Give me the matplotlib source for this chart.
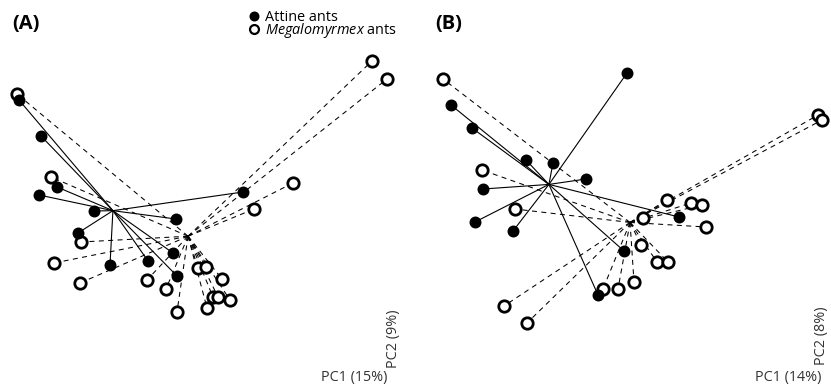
"""PCA spider plots: attine vs Megalomyrmex ants, two panels."""

import matplotlib
matplotlib.use("Agg")
import matplotlib.pyplot as plt
import numpy as np
from matplotlib.lines import Line2D

plt.rcParams["font.family"] = ["Open Sans", "DejaVu Sans"]
plt.rcParams["mathtext.fontset"] = "custom"
plt.rcParams["mathtext.rm"] = "Open Sans"
plt.rcParams["mathtext.it"] = "Open Sans:italic"

# Panel A scores (PC1, PC2)
a_attine_pc1 = [-1.81, -1.59, -1.43, -1.61, -1.06, 0.43, -0.24, -1.22, -0.90, -0.52, -0.27, -0.23]
a_attine_pc2 = [1.30, 0.94, 0.43, 0.35, 0.19, 0.38, 0.11, -0.03, -0.35, -0.31, -0.23, -0.46]
a_mega_pc1 = [-1.83, -1.49, 1.72, 1.87, 0.93, 0.54, -1.19, -1.46, -1.20, -0.53,
              -0.34, -0.23, -0.02, 0.06, 0.22, 0.13, 0.18, 0.30, 0.07]
a_mega_pc2 = [1.36, 0.53, 1.69, 1.51, 0.47, 0.21, -0.12, -0.33, -0.53, -0.50,
              -0.59, -0.82, -0.38, -0.37, -0.49, -0.67, -0.67, -0.70, -0.78]

# Panel B scores (PC1, PC2)
b_attine_pc1 = [-1.69, -1.48, -0.94, -0.67, 0.07, -1.37, -0.34, -1.45, -1.07, 0.59, 0.04, -0.22]
b_attine_pc2 = [1.25, 1.02, 0.70, 0.67, 1.57, 0.41, 0.51, 0.08, -0.01, 0.13, -0.21, -0.65]
b_mega_pc1 = [-1.77, 1.98, 2.02, -1.38, -1.05, 0.47, 0.71, 0.82, 0.23, 0.86,
              0.21, 0.37, 0.48, 0.14, -0.02, -0.17, -1.16, -0.93]
b_mega_pc2 = [1.51, 1.15, 1.10, 0.60, 0.21, 0.30, 0.27, 0.25, 0.12, 0.03,
              -0.15, -0.32, -0.32, -0.52, -0.59, -0.59, -0.76, -0.93]

panels = [
    ("(A)", "PC1 (15%)", "PC2 (9%)", a_attine_pc1, a_attine_pc2, a_mega_pc1, a_mega_pc2),
    ("(B)", "PC1 (14%)", "PC2 (8%)", b_attine_pc1, b_attine_pc2, b_mega_pc1, b_mega_pc2),
]

W, H = 831, 388
fig = plt.figure(figsize=(W / 100, H / 100), dpi=100)

ax_a = fig.add_axes((0, 0, 415 / W, 1))
ax_b = fig.add_axes((415 / W, 0, 416 / W, 1))
ax_a.set_xlim(-2.00, 2.15)
ax_b.set_xlim(-2.05, 2.11)
axes = [ax_a, ax_b]

filled_kw = dict(marker="o", ms=8.6, mfc="black", mec="black", mew=0, ls="none", zorder=4)
open_kw = dict(marker="o", ms=8.2, mfc="white", mec="black", mew=2.0, ls="none", zorder=3)


def spider(ax, xs, ys, **line_kw):
    xs, ys = np.asarray(xs), np.asarray(ys)
    cx, cy = xs.mean(), ys.mean()
    for x, y in zip(xs, ys):
        ax.plot([cx, x], [cy, y], color="black", zorder=2, **line_kw)


for ax, (tag, xlab, ylab, ax1, ay1, mx1, my1) in zip(axes, panels):
    ax.set_ylim(-1.58, 2.30)
    ax.axis("off")
    spider(ax, mx1, my1, lw=0.75, ls=(0, (4.8, 4.2)))
    spider(ax, ax1, ay1, lw=0.8, ls="-")
    ax.plot(mx1, my1, clip_on=False, **open_kw)
    ax.plot(ax1, ay1, clip_on=False, **filled_kw)

fig.text(12 / W, 1 - 24 / H, "(A)", fontsize=14.5, fontweight="bold", va="center")
fig.text(435 / W, 1 - 24 / H, "(B)", fontsize=14.5, fontweight="bold", va="center")

lab_kw = dict(fontsize=10.4, color="#333333")
fig.text(387 / W, 1 - 377 / H, "PC1 (15%)", ha="right", va="center", **lab_kw)
fig.text(393 / W, 1 - 339 / H, "PC2 (9%)", rotation=90, ha="center", va="center", **lab_kw)
fig.text(821 / W, 1 - 378 / H, "PC1 (14%)", ha="right", va="center", **lab_kw)
fig.text(822 / W, 1 - 336 / H, "PC2 (8%)", rotation=90, ha="center", va="center", **lab_kw)

handles = [
    Line2D([], [], marker="o", ms=7.2, mfc="black", mec="black", mew=0, ls="none"),
    Line2D([], [], marker="o", ms=6.4, mfc="white", mec="black", mew=1.6, ls="none"),
]
fig.legend(handles, ["Attine ants", r"$\it{Megalomyrmex}$ ants"],
           loc="upper left", bbox_to_anchor=(250 / W, 1 - 10 / H),
           frameon=False, fontsize=10.4, handlelength=0.6, handletextpad=0.45,
           labelspacing=-0.25, borderpad=0, borderaxespad=0)

fig.savefig("out.png", dpi=100)
